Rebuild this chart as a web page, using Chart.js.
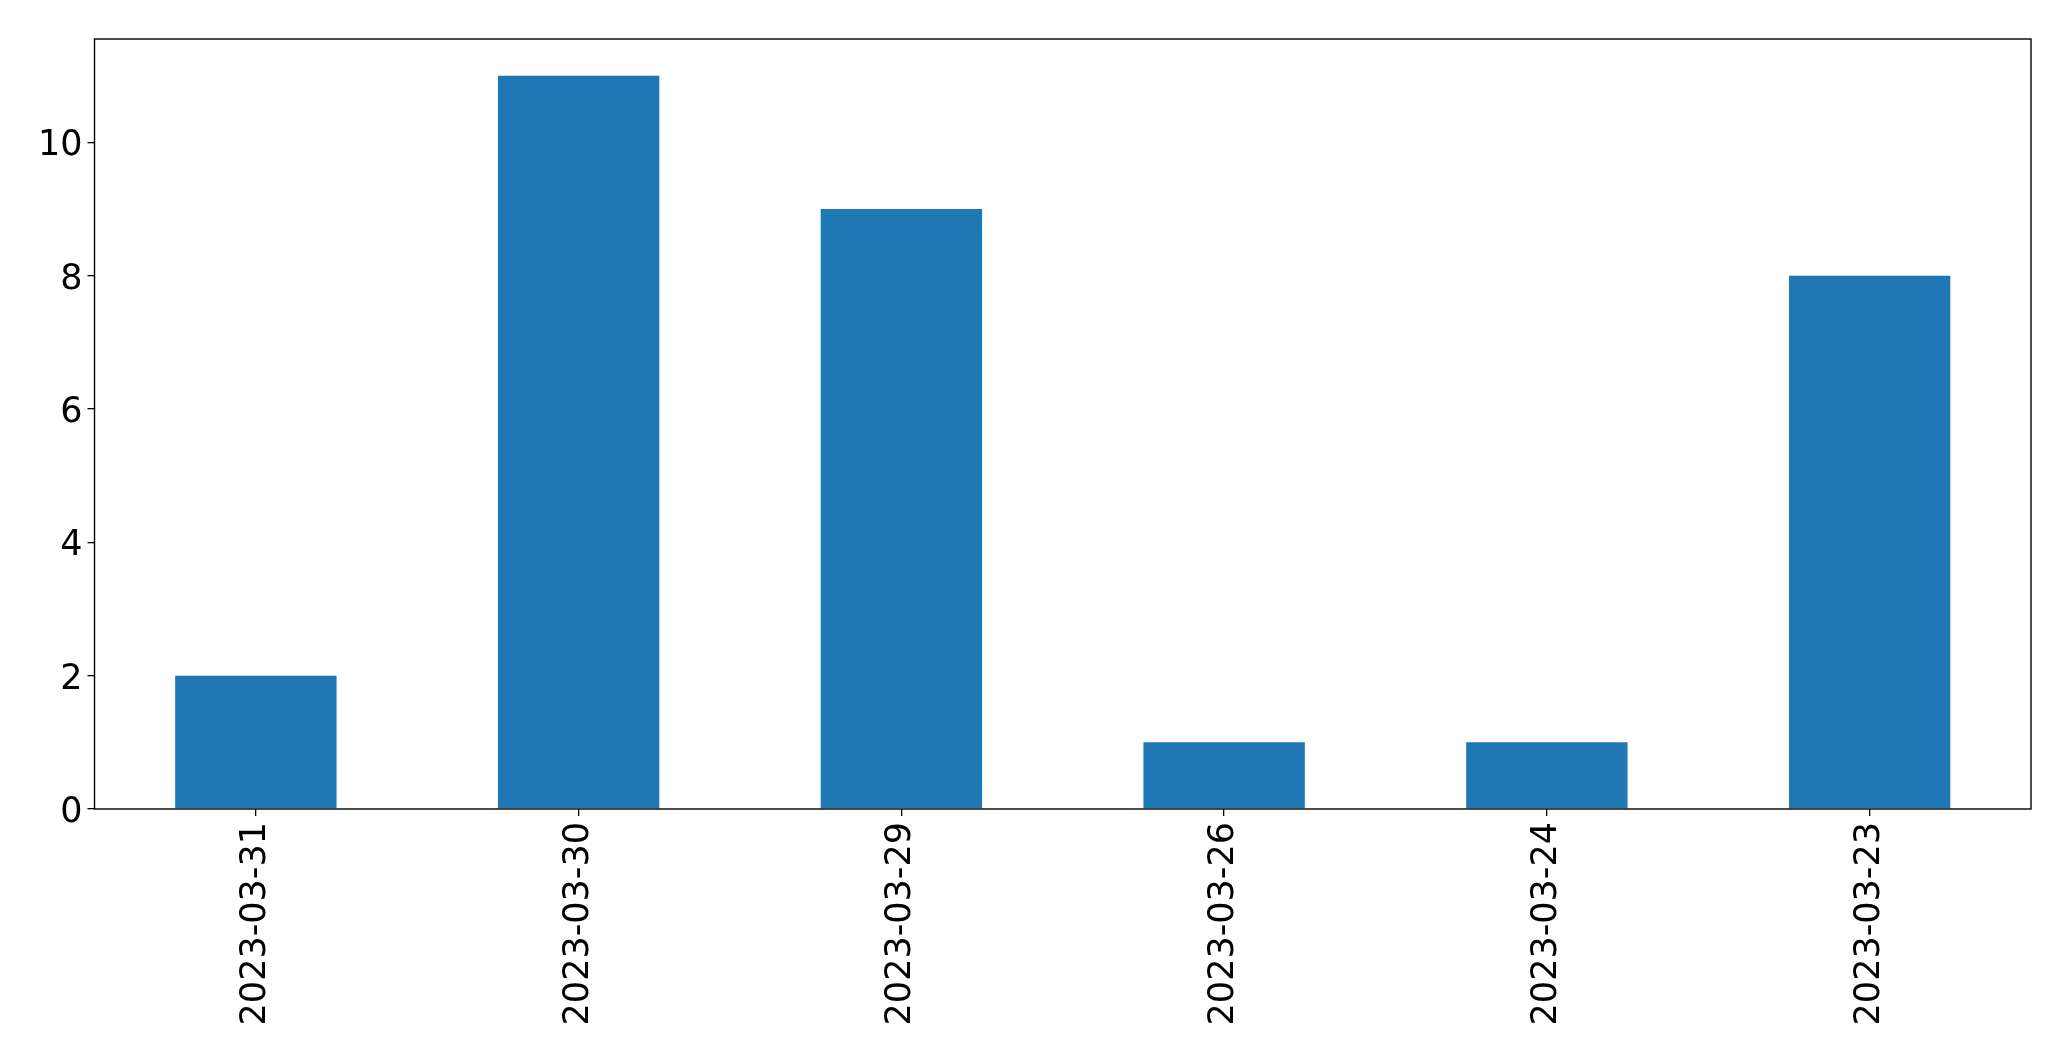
<!DOCTYPE html>
<html>
<head>
<meta charset="utf-8">
<script src="https://cdn.jsdelivr.net/npm/chart.js@4/dist/chart.umd.min.js"></script>
<style>
  html, body { margin: 0; padding: 0; background: #fff; }
  #wrap { width: 2071px; height: 1061px; }
</style>
</head>
<body>
<div id="wrap"><canvas id="chart" width="2071" height="1061"></canvas></div>
<script>
// dados do gráfico
const dates = ['2023-03-31', '2023-03-30', '2023-03-29', '2023-03-26', '2023-03-24', '2023-03-23'];
const counts = [2, 11, 9, 1, 1, 8];
const yTicks = [0, 2, 4, 6, 8, 10];

// moldura em volta da área do gráfico
const frame = {
    id: 'frame',
    afterDraw(chart) {
        const { ctx, chartArea: a } = chart;
        ctx.save();
        ctx.strokeStyle = '#000';
        ctx.lineWidth = 1.4;
        ctx.strokeRect(a.left, a.top, a.right - a.left, a.bottom - a.top);
        ctx.restore();
    }
};

const tickFont = { family: 'DejaVu Sans', size: 35 };

new Chart(document.getElementById('chart').getContext('2d'), {
    type: 'bar',
    data: {
        labels: dates,
        datasets: [{
            data: counts,
            backgroundColor: '#1f77b4',
            borderWidth: 0,
            barPercentage: 0.5,
            categoryPercentage: 1.0
        }]
    },
    options: {
        responsive: false,
        animation: false,
        layout: { padding: { top: 39, right: 40, left: 0, bottom: 0 } },
        plugins: {
            legend: { display: false },
            tooltip: { enabled: false }
        },
        scales: {
            x: {
                grid: { display: true, drawOnChartArea: false, offset: false, tickLength: 7, color: '#000', lineWidth: 1.3 },
                border: { display: false },
                ticks: { color: '#000', font: tickFont, minRotation: 90, maxRotation: 90, padding: 6, autoSkip: false },
                afterFit(scale) { scale.height = 1061 - 809; }
            },
            y: {
                min: 0,
                max: 11.55,
                afterBuildTicks(scale) { scale.ticks = yTicks.map(v => ({ value: v })); },
                grid: { display: true, drawOnChartArea: false, tickLength: 7, color: '#000', lineWidth: 1.3 },
                border: { display: false },
                ticks: { color: '#000', font: tickFont, padding: 5, labelOffset: 4 },
                afterFit(scale) { scale.width = 94.5; }
            }
        }
    },
    plugins: [frame]
});
</script>
</body>
</html>
